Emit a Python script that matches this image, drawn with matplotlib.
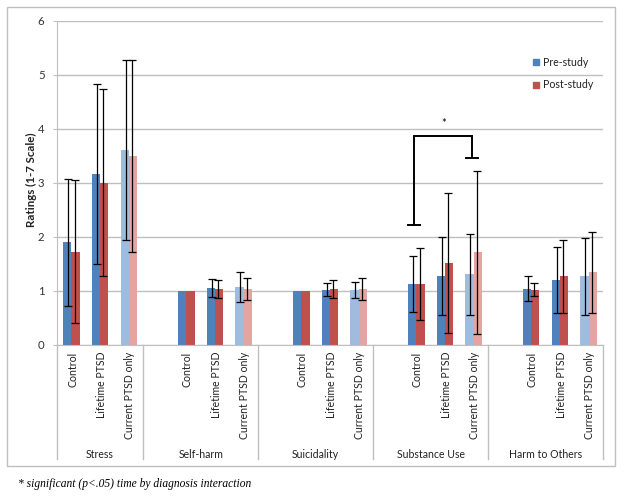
import numpy as np
import matplotlib
matplotlib.use("Agg")
import matplotlib.pyplot as plt
from matplotlib.patches import Rectangle
from matplotlib.lines import Line2D

plt.rcParams['font.family'] = ['Lato', 'DejaVu Sans']

groups = ["Stress", "Self-harm", "Suicidality", "Substance Use", "Harm to Others"]
diagnoses = ["Control", "Lifetime PTSD", "Current PTSD only"]
series = ["Pre-study", "Post-study"]

pre_mean = [1.89, 3.16, 3.60, 1.00, 1.05, 1.07, 1.00, 1.01, 1.01, 1.12, 1.27, 1.30, 1.03, 1.19, 1.26]
pre_err = [1.17, 1.67, 1.66, 0.00, 0.17, 0.28, 0.00, 0.12, 0.14, 0.51, 0.72, 0.75, 0.23, 0.61, 0.71]
post_mean = [1.72, 3.00, 3.49, 1.00, 1.03, 1.03, 1.00, 1.03, 1.03, 1.12, 1.51, 1.71, 1.01, 1.26, 1.34]
post_err = [1.32, 1.74, 1.77, 0.00, 0.16, 0.20, 0.00, 0.17, 0.20, 0.66, 1.30, 1.51, 0.12, 0.68, 0.75]

yticks = [0, 1, 2, 3, 4, 5, 6]
ylabel = "Ratings (1-7 Scale)"
footnote = "* significant (p<.05) time by diagnosis interaction"

# significance bracket (Substance Use: Control vs Current PTSD only)
sig_group = 3
sig_left_y, sig_top_y, sig_right_y, sig_star_y = 2.21, 3.86, 3.45, 4.10

blue_dark, blue_light = "#4F81BD", "#9DBCE0"
red_dark, red_light = "#C0504D", "#E3A4A2"
grid_c = "#BFBFBF"
txt_c = "#222222"
fs = 7.6

W, H = 624, 496
fig = plt.figure(figsize=(W / 100, H / 100), dpi=100)
ax_l, ax_r, ax_t, ax_b = 57, 603, 20.5, 344.5
ax = fig.add_axes([ax_l / W, 1 - ax_b / H, (ax_r - ax_l) / W, (ax_b - ax_t) / H])

n_slots = 4 * len(groups) - 1
ng = len(diagnoses)
pos = np.array([4 * g + k for g in range(len(groups)) for k in range(ng)], dtype=float)
light = np.array([k == ng - 1 for g in range(len(groups)) for k in range(ng)])

bw = 0.29
pre_cols = [blue_light if l else blue_dark for l in light]
post_cols = [red_light if l else red_dark for l in light]
ax.bar(pos - bw / 2, pre_mean, width=bw, color=pre_cols, zorder=2)
ax.bar(pos + bw / 2, post_mean, width=bw, color=post_cols, zorder=2)

pm, pe = np.array(pre_mean), np.array(pre_err)
qm, qe = np.array(post_mean), np.array(post_err)
m1 = pe > 0
m2 = qe > 0
ax.errorbar(pos[m1] - bw / 2 + 0.03, pm[m1], yerr=pe[m1], fmt='none', ecolor='black',
            elinewidth=0.9, capsize=2.8, capthick=0.9, zorder=3)
ax.errorbar(pos[m2] + bw / 2 - 0.03, qm[m2], yerr=qe[m2], fmt='none', ecolor='black',
            elinewidth=0.9, capsize=2.8, capthick=0.9, zorder=3)

ax.set_xlim(-0.5, n_slots - 0.5)
ax.set_ylim(0, 6)
ax.set_yticks(yticks)
ax.set_yticklabels([str(t) for t in yticks], fontsize=8.2, color='#333333')
ax.yaxis.grid(True, color=grid_c, linewidth=1.0)
ax.set_axisbelow(True)
ax.tick_params(axis='y', length=3, color=grid_c, pad=6)
ax.set_xticks([])
for s in ['top', 'right']:
    ax.spines[s].set_visible(False)
ax.spines['left'].set_color(grid_c)
ax.spines['bottom'].set_color(grid_c)

fig.text(31 / W, 1 - 180 / H, ylabel, rotation=90, ha='center', va='center',
         fontsize=8.3, fontweight='bold', color=txt_c)

# category labels
trans = ax.get_xaxis_transform()
lab_top = -(352 - ax_b) / (ax_b - ax_t)
for p, lab in zip(pos, [d for g in groups for d in diagnoses]):
    ax.text(p + 0.04, lab_top, lab, rotation=90, ha='center', va='top', fontsize=fs,
            transform=trans, color=txt_c)

# group separators and labels
sep_bottom = -(459 - ax_b) / (ax_b - ax_t)
bounds = [-0.5] + [4 * g + 3 - 0.5 for g in range(len(groups) - 1)] + [n_slots - 0.5]
for b in bounds:
    ax.add_line(Line2D([b, b], [0, sep_bottom], transform=trans, color=grid_c,
                       linewidth=1.0, clip_on=False))
lab_y = -(454 - ax_b) / (ax_b - ax_t)
for g, name in enumerate(groups):
    lo = bounds[g]
    hi = bounds[g + 1]
    ax.text((lo + hi) / 2, lab_y, name, ha='center', va='center', fontsize=fs,
            transform=trans, color=txt_c)

# significance bracket
xl = 4 * sig_group - 0.07
xr = 4 * sig_group + 2 - 0.05
ax.plot([xl, xl, xr, xr], [sig_left_y, sig_top_y, sig_top_y, sig_right_y], color='black',
        linewidth=1.4, zorder=4, solid_joinstyle='miter')
ax.plot([xl - 0.21, xl + 0.21], [sig_left_y, sig_left_y], color='black', linewidth=1.4, zorder=4)
ax.plot([xr - 0.21, xr + 0.21], [sig_right_y, sig_right_y], color='black', linewidth=1.4, zorder=4)
ax.text((xl + xr) / 2, sig_star_y, "*", ha='center', va='center', fontsize=8)

# legend
for i, (name, col) in enumerate(zip(series, [blue_dark, red_dark])):
    yc = 62 + 23 * i
    fig.patches.append(Rectangle((533 / W, 1 - (yc + 3) / H), 6 / W, 6 / H,
                                 transform=fig.transFigure, color=col))
    fig.text(543 / W, 1 - yc / H, name, ha='left', va='center', fontsize=fs, color=txt_c)

# chart frame
fig.patches.append(Rectangle((6.5 / W, 1 - 465.5 / H), (615 - 6.5) / W, (465.5 - 6.5) / H,
                             transform=fig.transFigure, fill=False, edgecolor='#BFBFBF',
                             linewidth=1.0))

fig.text(18 / W, 1 - 484 / H, footnote, ha='left', va='center', fontsize=8.3,
         family=['Liberation Serif'], style='italic')

fig.savefig("out.png", dpi=100)
